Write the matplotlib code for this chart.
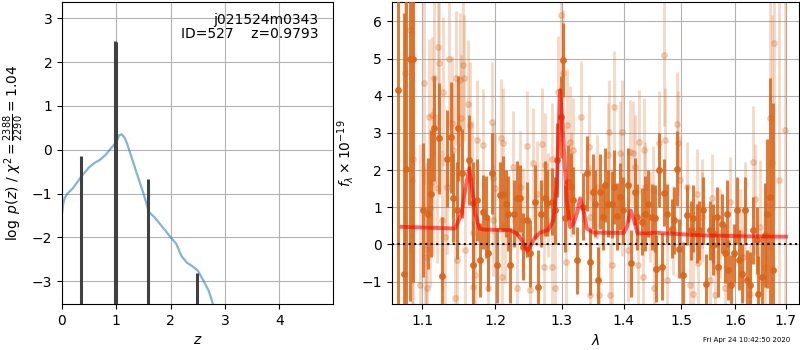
import numpy as np
import matplotlib
matplotlib.use('Agg')
import matplotlib.pyplot as plt
from matplotlib.ticker import FixedLocator, NullLocator

#===== redshift panel =====#
zgrid = [0.0, 0.02, 0.05, 0.1, 0.2, 0.35, 0.5, 0.6, 0.7, 0.8, 0.9, 1.0, 1.05, 1.1, 1.15,
         1.2, 1.3, 1.4, 1.5, 1.6, 1.7, 1.8, 1.9, 2.0, 2.1, 2.2, 2.3, 2.4, 2.5, 2.6, 2.7,
         2.78, 2.85]
logpz = [-1.45, -1.25, -1.1, -1.0, -0.88, -0.62, -0.40, -0.30, -0.23, -0.12, 0.03, 0.17,
         0.33, 0.35, 0.28, 0.13, -0.25, -0.63, -1.0, -1.42, -1.54, -1.69, -1.84, -2.0,
         -2.14, -2.43, -2.58, -2.66, -2.76, -2.98, -3.22, -3.53, -3.8]
# narrow peaks from the zoomed fit
zpeak = [0.35, 0.97, 0.985, 1.59, 2.48]
logpz_peak = [-0.15, 2.48, 2.45, -0.67, -2.81]

#===== spectrum panel =====#
dark_wave = [1.0688, 1.0761, 1.0787, 1.0839, 1.0873, 1.1011, 1.1077, 1.1111, 1.1155, 1.1226,
             1.1267, 1.1335, 1.1380, 1.1416, 1.1462, 1.1484, 1.1531, 1.1636, 1.1684, 1.1693,
             1.1749, 1.1787, 1.1834, 1.1872, 1.1905, 1.1953, 1.2034, 1.2073, 1.2112, 1.2160,
             1.2194, 1.2218, 1.2277, 1.2317, 1.2365, 1.2405, 1.2474, 1.2514, 1.2590, 1.2640,
             1.2676, 1.2742, 1.2777, 1.2844,
             1.2895, 1.2930, 1.2983, 1.3014, 1.3050, 1.3102, 1.3140, 1.3181, 1.3235, 1.3341,
             1.3395, 1.3447, 1.3491, 1.3528, 1.3582, 1.3609, 1.3663, 1.3691, 1.3745, 1.3801,
             1.3845, 1.3885, 1.3939, 1.3995, 1.4079, 1.4124,
             1.4192, 1.4231, 1.4306, 1.4363, 1.4420, 1.4478, 1.4536, 1.4553, 1.4611, 1.4653,
             1.4699, 1.4741, 1.4830, 1.4871, 1.4931, 1.4966, 1.5038, 1.5099, 1.5172, 1.5220,
             1.5281, 1.5329, 1.5392, 1.5452, 1.5526, 1.5576,
             1.5588, 1.5651, 1.5681, 1.5745, 1.5808, 1.5840, 1.5871, 1.5916, 1.5980, 1.6031,
             1.6081, 1.6127, 1.6191, 1.6224, 1.6288, 1.6353, 1.6419, 1.6452, 1.6518, 1.6584,
             1.6630, 1.6683, 1.6750]
dark_flux = [4.15, -0.78, 2.04, 4.98, 4.98, 0.92, 0.83, 1.37, 3.12, 2.85,
             -0.85, 2.31, 2.88, 1.26, 0.92, 3.12, 1.91, 2.27, 1.12, -0.56,
             1.19, -0.42, 0.88, 0.74, -0.24, 1.91, -0.56, 1.33, 1.37, 1.10,
             0.83, -0.56, 0.83, 1.24, 1.24, -0.06, 0.67, -0.24, 1.15, -1.14,
             0.83, 1.24, 1.12, 1.15,
             0.92, 2.27, 3.43, 4.96, 0.70, 1.68, 1.55, 1.19, -0.42, 1.01,
             1.91, -0.47, 1.42, 1.10, -0.96, 1.42, 0.74, 1.60, 1.10, 1.08,
             1.55, 0.76, 1.28, 0.92, 1.60, -0.51,
             1.42, 0.74, 0.61, 0.83, 1.10, 0.74, 0.70, -0.65, 2.00, -0.60,
             1.39, 0.83, 0.43, 0.65, 2.04, -0.11, -0.83, 0.79, 0.38, 0.70,
             0.30, 0.38, 0.92, -1.05, 0.38, 0.30,
             -0.02, 0.74, -0.60, 0.56, -0.24, 0.83, -0.69, -1.09, -0.24, 0.92,
             -0.42, -0.78, 0.92, -0.96, -1.09, 0.38, 0.12, -1.32, -0.87, 0.25,
             0.83, 1.28, -0.69]
dark_err = [6.0, 7.0, 4.5, 6.5, 6.0, 1.8, 1.5, 1.7, 1.4, 1.5,
            1.6, 1.3, 1.5, 1.2, 1.3, 1.4, 1.2, 1.2, 1.1, 1.2,
            1.1, 1.0, 1.0, 1.1, 1.0, 1.1, 1.0, 0.9, 1.0, 0.9,
            1.0, 1.0, 0.9, 1.0, 0.9, 0.9, 1.0, 0.9, 1.0, 1.0,
            0.9, 1.0, 0.9, 0.9,
            0.9, 1.0, 1.1, 1.0, 0.9, 1.0, 0.9, 0.9, 0.9, 0.9,
            1.0, 0.9, 1.0, 0.9, 0.9, 1.0, 0.9, 1.0, 0.9, 0.9,
            1.0, 0.9, 0.9, 0.9, 1.0, 0.9,
            0.9, 0.9, 0.9, 1.0, 0.9, 0.9, 0.9, 0.9, 1.0, 0.9,
            0.9, 0.8, 0.8, 0.9, 1.0, 0.8, 0.9, 0.8, 0.8, 0.9,
            0.8, 0.8, 0.9, 0.8, 0.8, 0.8,
            0.8, 0.8, 0.8, 0.8, 0.8, 0.9, 0.8, 0.8, 0.8, 0.9,
            0.8, 0.8, 0.9, 0.8, 0.9, 0.9, 0.9, 1.0, 1.1, 1.4,
            2.0, 3.2, 4.5]

light_wave = [1.0774, 1.0839, 1.0860, 1.0873, 1.0969, 1.1024, 1.1033, 1.1046, 1.1055, 1.1089,
              1.1102, 1.1125, 1.1138, 1.1155, 1.1191, 1.1212, 1.1222, 1.1258, 1.1280, 1.1303,
              1.1326, 1.1361, 1.1393, 1.1416, 1.1439, 1.1453, 1.1462, 1.1508, 1.1515, 1.1553,
              1.1562, 1.1576, 1.1623, 1.1646, 1.1669, 1.1684, 1.1693, 1.1717, 1.1749, 1.1834,
              1.1905, 1.1953, 1.1967, 1.1975, 1.2001, 1.2083, 1.2097, 1.2112, 1.2145, 1.2266,
              1.2317, 1.2365, 1.2414, 1.2474, 1.2514, 1.2564, 1.2615, 1.2691, 1.2727, 1.2742,
              1.2792, 1.2844, 1.2850, 1.2895, 1.2946, 1.2983, 1.3014, 1.3066, 1.3085, 1.3129,
              1.3140, 1.3171, 1.3298, 1.3437, 1.3440, 1.3447, 1.3555, 1.3598, 1.3745, 1.3762,
              1.3773, 1.3801, 1.3840, 1.3939, 1.3967, 1.3975, 1.4079, 1.4107, 1.4164, 1.4192,
              1.4248, 1.4265, 1.4334, 1.4351, 1.4363, 1.4449, 1.4507, 1.4515, 1.4611, 1.4694,
              1.4711, 1.4741, 1.4859, 1.4931, 1.4948, 1.4978, 1.5099, 1.5159, 1.5209, 1.5281,
              1.5311, 1.5373, 1.5380, 1.5526, 1.5557, 1.5620, 1.5713, 1.5808, 1.5903, 1.6094,
              1.6159, 1.6191, 1.6288, 1.6353, 1.6386, 1.6485, 1.6584, 1.6683, 1.6716, 1.6763,
              1.6870, 1.6986]
light_flux = [4.60, 5.77, 1.73, 2.31, -1.09, 4.33, -0.33, -0.11, -1.18, 3.43,
              0.97, 3.48, 1.68, 4.47, 1.51, 5.32, 4.87, 0.65, 4.11, 0.20,
              1.55, 4.98, 3.26, 2.54, -1.45, 4.47, -0.42, 4.42, 3.39, 4.82,
              4.47, -0.15, 3.79, 3.21, 1.82, 0.30, -1.14, -0.83, 2.81, 2.67,
              -1.18, 3.30, 1.78, 0.65, 1.51, 2.85, -0.87, 2.72, 0.47, 2.09,
              -1.18, 1.55, 0.65, 2.64, -1.23, 2.18, 1.37, 2.70, -0.60, 2.13,
              1.06, 2.31, -0.60, -1.18, 4.11, 6.17, 4.60, -0.47, 3.21, 2.76,
              1.60, 2.54, 3.43, 2.63, -1.36, 0.74, 1.55, -1.36, 2.40, 3.03,
              -1.36, -0.56, 3.70, 2.45, 3.03, 1.10, -0.15, 2.49, 2.45, 2.09,
              -0.56, 2.76, -0.87, 2.54, 1.55, 0.74, 1.46, -1.18, 2.72, 5.09,
              2.81, -0.96, 0.38, 3.24, 2.72, 1.73, 1.55, -1.09, -1.32, 1.37,
              -0.51, 1.10, 0.74, -0.96, 1.24, -1.36, 0.30, -1.18, 1.15, 0.30,
              -0.33, 0.92, -1.32, 2.22, 1.21, 0.47, -0.60, 3.39, 2.18, 5.42,
              1.73, 3.07]
light_err = [4.5, 6.0, 5.0, 4.5, 3.8, 2.7, 2.4, 2.3, 2.2, 2.1,
             2.1, 2.1, 2.0, 2.1, 2.0, 2.1, 2.0, 1.9, 2.0, 1.8,
             1.8, 1.9, 1.8, 1.8, 1.8, 1.8, 1.7, 1.8, 1.7, 1.8,
             1.7, 1.7, 1.7, 1.7, 1.5, 1.5, 1.5, 1.5, 1.6, 1.5,
             1.5, 1.6, 1.5, 1.5, 1.5, 1.6, 1.5, 1.5, 1.5, 1.5,
             1.5, 1.5, 1.4, 1.5, 1.4, 1.5, 1.4, 1.5, 1.4, 1.4,
             1.4, 1.5, 1.4, 1.4, 1.5, 1.8, 1.7, 1.4, 1.5, 1.5,
             1.4, 1.4, 1.5, 1.4, 1.4, 1.4, 1.4, 1.4, 1.4, 1.4,
             1.4, 1.4, 1.5, 1.4, 1.4, 1.4, 1.4, 1.4, 1.4, 1.4,
             1.4, 1.4, 1.2, 1.4, 1.2, 1.2, 1.2, 1.2, 1.4, 1.9,
             1.4, 1.2, 1.2, 1.4, 1.4, 1.2, 1.2, 1.2, 1.2, 1.2,
             1.2, 1.2, 1.2, 1.2, 1.2, 1.2, 1.2, 1.2, 1.2, 1.2,
             1.2, 1.3, 1.3, 1.5, 1.5, 1.8, 2.2, 3.5, 4.0, 4.5,
             5.0, 5.0]

model_wave = [1.073, 1.144, 1.153, 1.158, 1.1636, 1.168, 1.172, 1.178, 1.185, 1.222,
              1.2316, 1.239, 1.2468, 1.2514, 1.259, 1.2666, 1.279, 1.287, 1.292, 1.2972,
              1.3025, 1.3077, 1.313, 1.3183, 1.3235, 1.3288, 1.3342, 1.3395, 1.3503, 1.3998,
              1.4054, 1.4119, 1.4175, 1.4232, 1.4448, 1.4506, 1.528, 1.6224, 1.70]
model_flux = [0.475, 0.43, 0.83, 1.5, 2.05, 1.4, 0.8, 0.43, 0.40, 0.385,
              0.30, 0.12, -0.17, -0.06, 0.19, 0.32, 0.39, 0.65, 1.55, 4.15,
              2.8, 1.19, 0.47, 0.56, 0.83, 1.24, 0.92, 0.43, 0.32, 0.31,
              0.48, 0.91, 0.65, 0.30, 0.30, 0.32, 0.25, 0.22, 0.21]

lam_ticks = [1.1, 1.2, 1.3, 1.4, 1.5, 1.6, 1.7]
orange = '#d9661a'

fig = plt.figure(figsize=(8, 3.5), dpi=100)

# ---- left: p(z)
ax1 = fig.add_axes([0.0775, 0.1314, 0.339, 0.8629])
ax1.plot(zgrid, logpz, color='#1f77b4', alpha=0.55, lw=1.6)
ax1.vlines(zpeak, -4, logpz_peak, color='0.25', lw=2.2)
ax1.set_xlim(0, 4.99)
ax1.set_ylim(max(logpz_peak) - 6, max(logpz_peak) + 0.89)
ax1.set_xlabel(r'$z$')
ax1.set_ylabel(r'$\log\ p(z)$ / $\chi^2=\frac{2388}{2290}=1.04$')
ax1.grid(color='0.7')
ax1.set_axisbelow(True)
ax1.text(0.945, 0.965, 'j021524m0343\nID=527    z=0.9793', transform=ax1.transAxes,
         ha='right', va='top', fontsize=10, linespacing=1.05)

# ---- right: spectrum
ax2 = fig.add_axes([0.4896, 0.1314, 0.5094, 0.8629])
ax2.errorbar(light_wave, light_flux, yerr=light_err, fmt='o', ms=4, color=orange,
             alpha=0.25, elinewidth=2, capsize=0, zorder=2)
ax2.errorbar(dark_wave, dark_flux, yerr=dark_err, fmt='o', ms=4, color=orange,
             alpha=0.85, elinewidth=2.2, capsize=0, zorder=3)
ax2.plot(model_wave, model_flux, color='r', alpha=0.6, lw=2.8, zorder=4)
ax2.axhline(0, color='k', ls=':', lw=1.5, zorder=5)
ax2.set_xscale('log')
ax2.set_xlim(1.0603, 1.7274)
ax2.set_ylim(-1.6, 6.52)
ax2.xaxis.set_major_locator(FixedLocator(lam_ticks))
ax2.xaxis.set_minor_locator(NullLocator())
ax2.set_xticklabels(['%.1f' % t for t in lam_ticks])
ax2.set_xlabel(r'$\lambda$')
ax2.set_ylabel(r'$f_\lambda\times10^{-19}$')
ax2.grid(color='0.7')
ax2.set_axisbelow(True)

fig.text(0.9875, 0.029, 'Fri Apr 24 10:42:50 2020', ha='right', va='center', fontsize=5)

fig.savefig('out.png', dpi=100)
